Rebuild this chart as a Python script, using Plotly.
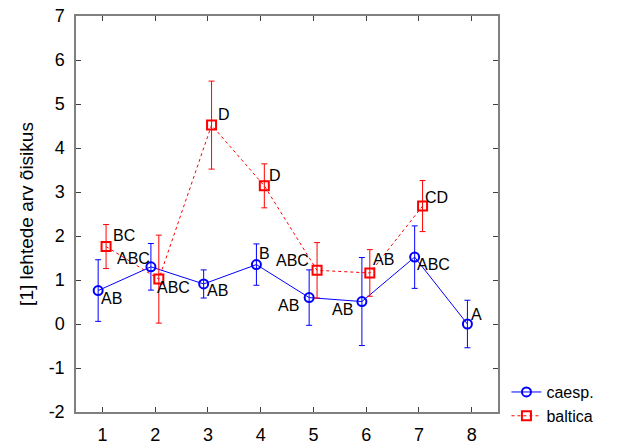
import plotly.graph_objects as go

# Group index on the x axis
groups = [1, 2, 3, 4, 5, 6, 7, 8]

# caesp.: means, error half-widths and significance letters
caesp_mean = [0.76, 1.30, 0.91, 1.35, 0.60, 0.51, 1.52, 0.00]
caesp_err = [0.70, 0.53, 0.32, 0.47, 0.63, 1.00, 0.71, 0.54]
caesp_letters = ["AB", "ABC", "AB", "B", "AB", "AB", "ABC", "A"]

# baltica: no observation for group 8
baltica_groups = [1, 2, 3, 4, 5, 6, 7]
baltica_mean = [1.76, 1.02, 4.52, 3.14, 1.22, 1.16, 2.68]
baltica_err = [0.50, 1.00, 1.00, 0.50, 0.63, 0.53, 0.58]
baltica_letters = ["BC", "ABC", "D", "D", "ABC", "AB", "CD"]

y_ticks = [-2, -1, 0, 1, 2, 3, 4, 5, 6, 7]
y_ticktext = ["-2", "-1", "0", "1", "2", "3", "4", "5", "6", "7"]

# small horizontal dodge so the two series do not overlap
caesp_x = [g - 0.08 for g in groups]
baltica_x = [g + 0.07 for g in baltica_groups]

BLUE = "#0000ff"
RED = "#ff0000"
FONT = "Liberation Sans, Arial, sans-serif"

fig = go.Figure()
fig.add_trace(go.Scatter(
    x=caesp_x, y=caesp_mean, name="caesp.", mode="lines+markers",
    line=dict(color=BLUE, width=1),
    marker=dict(symbol="circle-open", size=9, color=BLUE, line=dict(width=2)),
    error_y=dict(type="data", array=caesp_err, color=BLUE, thickness=1, width=3),
))
fig.add_trace(go.Scatter(
    x=baltica_x, y=baltica_mean, name="baltica", mode="lines+markers",
    line=dict(color=RED, width=1, dash="dot"),
    marker=dict(symbol="square-open", size=9, color=RED, line=dict(width=2)),
    error_y=dict(type="data", array=baltica_err, color=RED, thickness=1, width=3),
))

# letter placement: (xanchor, xshift, yshift) per point
caesp_place = [("left", 1, -8), ("right", 1, 8), ("left", 1, -7), ("left", 1, 11),
               ("right", -8, -8), ("right", -7, -8), ("left", 0, -7), ("left", 2, 10)]
baltica_place = [("left", 5, 11), ("left", -4, -8), ("left", 4, 11), ("left", 3, 10),
                 ("right", -6, 10), ("left", 1, 13), ("left", 0, 9)]

for xs, ys, letters, place in [(caesp_x, caesp_mean, caesp_letters, caesp_place),
                               (baltica_x, baltica_mean, baltica_letters, baltica_place)]:
    for x, y, t, (anc, dx, dy) in zip(xs, ys, letters, place):
        fig.add_annotation(x=x, y=y, text=t, showarrow=False, xanchor=anc,
                           yanchor="middle", xshift=dx, yshift=dy,
                           font=dict(family=FONT, size=16, color="black"))

axis_common = dict(showline=True, linecolor="#808080", linewidth=1.5, mirror="ticks",
                   ticks="inside", ticklen=5, tickcolor="#404040", showgrid=False,
                   zeroline=False, automargin=False,
                   tickfont=dict(family=FONT, size=18, color="black"))

fig.update_xaxes(range=[0.5, 8.5], tickvals=groups, ticklabelstandoff=6, **axis_common)
fig.update_yaxes(range=[-2, 7], tickvals=y_ticks, ticktext=y_ticktext,
                 ticklabelstandoff=6, **axis_common,
                 title=dict(text="[1] lehtede arv õisikus",
                            font=dict(family=FONT, size=19, color="black"), standoff=10))

fig.update_layout(
    width=627, height=445, margin=dict(l=76, r=129, t=16, b=33),
    paper_bgcolor="white", plot_bgcolor="white",
    legend=dict(x=1.02, y=0.02, xanchor="left", yanchor="middle",
                font=dict(family=FONT, size=16, color="black"),
                itemwidth=30, tracegroupgap=0),
)

fig.write_html("out.html")
